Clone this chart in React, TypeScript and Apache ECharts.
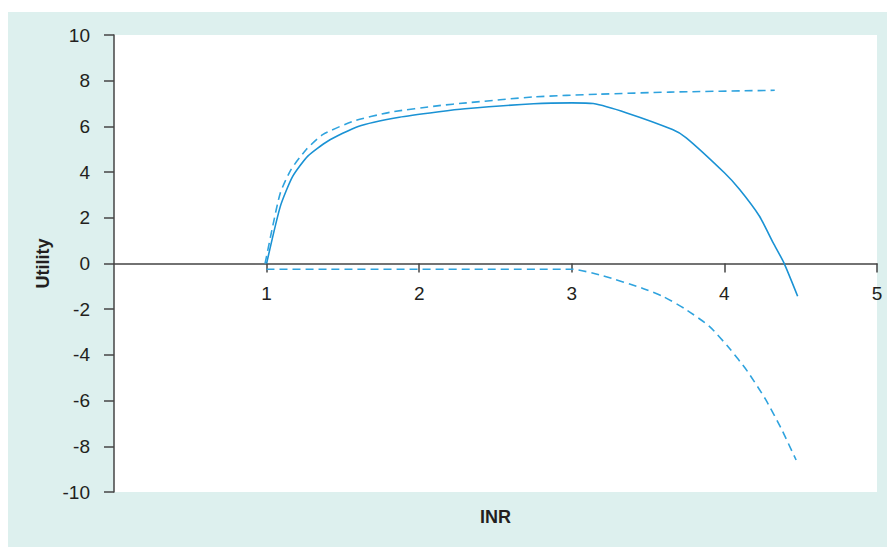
import React, { useEffect, useRef } from "react";
import * as echarts from "echarts";

const xTicks = [0, 1, 2, 3, 4, 5];
const yTicks = [-10, -8, -6, -4, -2, 0, 2, 4, 6, 8, 10];

// Solid curve (INR, utility)
const solidINR = [1.0, 1.09, 1.17, 1.27, 1.4, 1.6, 1.87, 2.13, 2.3, 2.75, 3.0, 3.14, 3.36, 3.66, 3.75, 4.0, 4.1, 4.23, 4.32, 4.39, 4.48];
const solidUtil = [0, 2.5, 3.8, 4.7, 5.35, 6.0, 6.4, 6.64, 6.77, 6.99, 7.03, 7.0, 6.59, 5.86, 5.5, 3.97, 3.24, 2.07, 0.9, 0.03, -1.43];

// Upper dashed curve
const upperINR = [0.99, 1.04, 1.09, 1.16, 1.26, 1.37, 1.57, 1.81, 2.13, 2.31, 2.75, 3.18, 3.64, 4.33];
const upperUtil = [0, 1.63, 3.09, 4.11, 4.99, 5.65, 6.23, 6.62, 6.91, 7.03, 7.29, 7.41, 7.5, 7.58];

// Lower dashed curve
const lowerINR = [1.0, 3.0, 3.2, 3.47, 3.6, 3.74, 3.9, 4.03, 4.15, 4.27, 4.37, 4.47];
const lowerUtil = [-0.25, -0.25, -0.53, -1.1, -1.45, -1.98, -2.74, -3.69, -4.71, -5.95, -7.19, -8.6];

const zip = (xs: number[], ys: number[]) => xs.map((x, i) => [x, ys[i]]);

const FONT = '"Liberation Sans", Arial, Helvetica, sans-serif';
const TEXT = "#231f20";
const AXIS = "#444444";
const BLUE = "#1a92d4";
const BLUE_DASH = "#2fa3de";

export default function App() {
  const ref = useRef<HTMLDivElement>(null);
  useEffect(() => {
    if (!ref.current) return;
    const chart = echarts.init(ref.current, undefined, { renderer: "svg" });
    chart.setOption({
      animation: false,
      backgroundColor: "#ffffff",
      graphic: [
        {
          type: "rect",
          z: -10,
          silent: true,
          shape: { x: 8, y: 12, width: 879, height: 535 },
          style: { fill: "#ddf0ee" },
        },
      ],
      grid: {
        left: 114,
        right: 10,
        top: 35,
        bottom: 55,
        show: true,
        backgroundColor: "#ffffff",
        borderWidth: 0,
        containLabel: false,
        outerBoundsMode: "none",
      },
      xAxis: {
        type: "value",
        min: xTicks[0],
        max: xTicks[xTicks.length - 1],
        interval: 1,
        name: "INR",
        nameLocation: "middle",
        nameGap: 16,
        nameTextStyle: { fontFamily: FONT, fontSize: 18, fontWeight: "bold", color: TEXT },
        axisLine: { onZero: true, lineStyle: { color: AXIS, width: 1.5 } },
        axisTick: { show: true, length: 9, lineStyle: { color: AXIS, width: 1.5 } },
        axisLabel: { showMinLabel: false, margin: -208, fontFamily: FONT, fontSize: 19, color: TEXT },
        splitLine: { show: false },
      },
      yAxis: {
        type: "value",
        min: yTicks[0],
        max: yTicks[yTicks.length - 1],
        interval: 2,
        name: "Utility",
        nameLocation: "middle",
        nameGap: 62,
        nameTextStyle: { fontFamily: FONT, fontSize: 18, fontWeight: "bold", color: TEXT },
        axisLine: { show: true, onZero: false, lineStyle: { color: AXIS, width: 1.5 } },
        axisTick: { show: true, length: 10, lineStyle: { color: AXIS, width: 1.5 } },
        axisLabel: { margin: 24, fontFamily: FONT, fontSize: 19, color: TEXT },
        splitLine: { show: false },
      },
      series: [
        {
          type: "line",
          data: zip(solidINR, solidUtil),
          showSymbol: false,
          smooth: 0.2,
          lineStyle: { color: BLUE, width: 1.6 },
        },
        {
          type: "line",
          data: zip(upperINR, upperUtil),
          showSymbol: false,
          smooth: 0.2,
          lineStyle: { color: BLUE_DASH, width: 1.6, type: [8, 5] },
        },
        {
          type: "line",
          data: zip(lowerINR, lowerUtil),
          showSymbol: false,
          smooth: 0.2,
          lineStyle: { color: BLUE_DASH, width: 1.6, type: [8, 5] },
        },
      ],
    });
    return () => chart.dispose();
  }, []);
  return (
    <div
      ref={ref}
      style={{ position: "fixed", left: 0, top: 0, width: 887, height: 547 }}
    />
  );
}
